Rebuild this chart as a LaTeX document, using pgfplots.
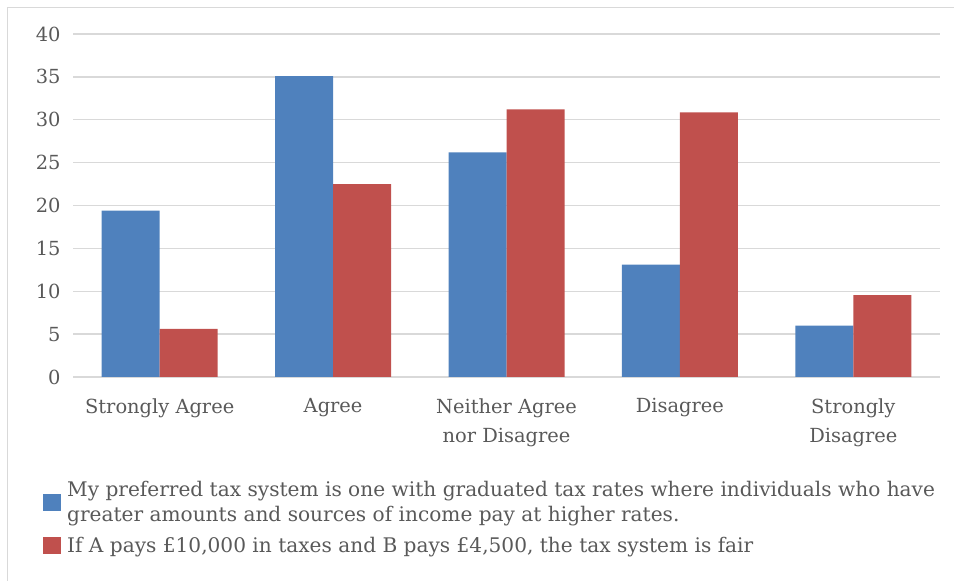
\documentclass[border=0pt]{standalone}
\usepackage{pgfplots}
\pgfplotsset{compat=1.18}
\usepackage{fontspec}
\setmainfont{DejaVu Serif}
\definecolor{xlblue}{HTML}{4F81BD}
\definecolor{xlred}{HTML}{C0504D}
\definecolor{txtgray}{HTML}{595959}
\definecolor{gridgray}{HTML}{D9D9D9}

\begin{document}
\begin{tikzpicture}
\path[use as bounding box] (0bp,0bp) rectangle (954bp,581bp);
% chart frame (only left and top edges are visible in the screenshot)
\draw[gridgray, line width=1pt] (7.5bp,0bp) -- (7.5bp,573bp) -- (954bp,573bp);
\begin{axis}[
    at={(73bp,204bp)}, anchor=south west,
    width=867bp, height=343bp, scale only axis,
    ybar=0pt, bar width=58bp,
    xmin=-0.5, xmax=4.5,
    ymin=0, ymax=40,
    xtick=data,
    xticklabels={Strongly Agree, Agree, {Neither Agree\\nor Disagree}, Disagree, {Strongly\\Disagree}},
    ytick={0,5,...,40},
    ymajorgrids,
    grid style={gridgray, line width=1.5pt},
    axis line style={draw=none},
    major tick length=0pt,
    /pgf/number format/assume math mode=true,
    tick label style={font=\fontsize{19.5}{29}\selectfont, text=txtgray},
    xticklabel style={align=center, yshift=-18bp},
    yticklabel style={xshift=-9bp},
    legend style={
        at={(-0.0346,-0.29)}, anchor=north west,
        draw=none, fill=none,
        font=\fontsize{20.2}{25}\selectfont, text=txtgray,
        inner sep=0pt, row sep=23bp,
    },
    legend cell align=left,
]
\addplot[fill=xlblue, draw=none,
    legend image code/.code={%
        \fill[xlblue] (0bp,-17bp) rectangle (18bp,0bp);
        \path (22bp,0bp);
    }] coordinates {
    (0,19.4) (1,35.1) (2,26.2) (3,13.1) (4,6.0)
};
\addplot[fill=xlred, draw=none,
    legend image code/.code={%
        \fill[xlred] (0bp,-8.5bp) rectangle (18bp,8.5bp);
        \path (22bp,0bp);
    }] coordinates {
    (0,5.6) (1,22.5) (2,31.2) (3,30.85) (4,9.55)
};
\legend{{\begin{tabular}{@{}l@{}}My preferred tax system is one with graduated tax rates where individuals who have\\greater amounts and sources of income pay at higher rates.\end{tabular}},
        {If A pays £10,000 in taxes and B pays £4,500, the tax system is fair}}
\end{axis}
\end{tikzpicture}
\end{document}
